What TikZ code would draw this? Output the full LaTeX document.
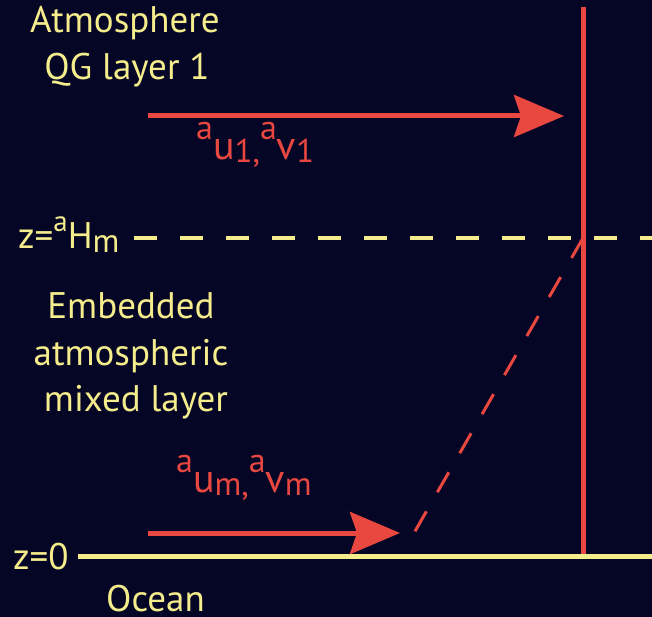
\documentclass[tikz,border=0pt]{standalone}
\usepackage{fontspec}
\setmainfont{PT Sans}
\usetikzlibrary{arrows.meta}
\definecolor{bgnavy}{HTML}{050526}
\definecolor{ylw}{HTML}{F5EC8C}
\definecolor{rd}{HTML}{E8483F}
\newcommand\rsup[1]{\raisebox{20pt}{\fontsize{34}{34}\selectfont #1}}
\newcommand\rsub[1]{\raisebox{-3pt}{\fontsize{33}{33}\selectfont #1}}
\newcommand\ysup[1]{\raisebox{17pt}{\fontsize{29}{29}\selectfont #1}}
\newcommand\ysub[1]{\raisebox{-5pt}{\fontsize{33}{33}\selectfont #1}}
\begin{document}
\begin{tikzpicture}[x=1pt,y=-1pt,
  txt/.style={inner sep=0pt,anchor=base,text=ylw,font=\fontsize{37}{37}\selectfont},
  rtxt/.style={inner sep=0pt,anchor=base west,text=rd,font=\fontsize{40}{40}\selectfont},
  arr/.style={draw=rd,line width=5pt,-{Stealth[length=50pt,width=42pt,inset=7pt]}},
  ylwline/.style={draw=ylw,line width=5pt},
  ylwdash/.style={draw=ylw,line width=4pt,dash pattern=on 23pt off 23pt},
  rddash/.style={draw=rd,line width=3pt,dash pattern=on 23pt off 22pt}]
\fill[bgnavy] (0,0) rectangle (652,617);
\useasboundingbox (0,0) rectangle (652,617);
% coordinates
\coordinate (vtop) at (583,7);
\coordinate (vbot) at (583,557);
\coordinate (a1s) at (148,116);
\coordinate (a1e) at (564,116);
\coordinate (hms) at (134,238);
\coordinate (hme) at (652,238);
\coordinate (hmx) at (583,238);
\coordinate (dgl) at (410,540);
\coordinate (z0s) at (78,556);
\coordinate (z0e) at (652,556);
\coordinate (ams) at (148,533);
\coordinate (ame) at (400,533);
% lines
\draw[draw=rd,line width=5pt] (vtop) -- (vbot);
\draw[arr] (a1s) -- (a1e);
\draw[ylwdash] (hms) -- (hme);
\draw[rddash] (hmx) -- (dgl);
\draw[ylwline] (z0s) -- (z0e);
\draw[arr] (ams) -- (ame);
% texts
\node[txt] (atm) at (125,33) {Atmosphere};
\node[txt] (qg) at (127,80) {QG layer 1};
\node[rtxt] (u1) at (196,160) {\rsup{a}u\rsub{1,}\rsup{a}v\rsub{1}};
\node[txt,anchor=base west] (hm) at (18,248) {z=\ysup{a}H\ysub{m}};
\node[txt] (emb) at (131,318) {Embedded};
\node[txt] (atms) at (131,365) {atmospheric};
\node[txt] (mix) at (136,411) {mixed layer};
\node[rtxt] (um) at (176,492) {\rsup{a}u\rsub{m,}\rsup{a}v\rsub{m}};
\node[txt,anchor=base west] (z0) at (13,569) {z=0};
\node[txt,anchor=base west] (oc) at (106,611) {Ocean};
\end{tikzpicture}
\end{document}
